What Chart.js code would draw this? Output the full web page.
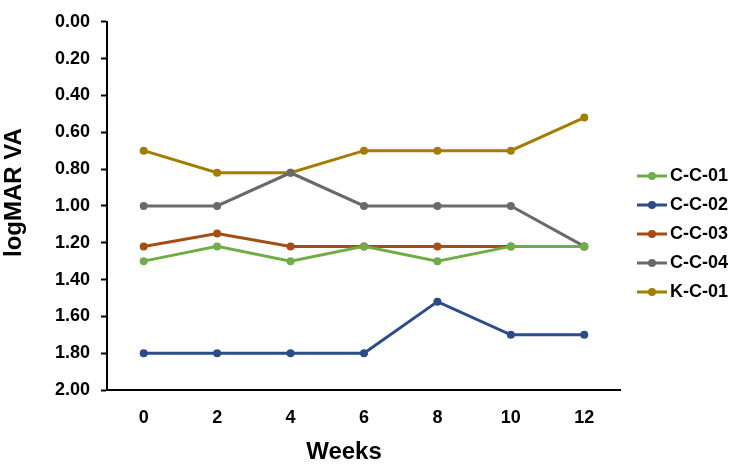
<!DOCTYPE html>
<html>
<head>
<meta charset="utf-8">
<script src="https://cdn.jsdelivr.net/npm/chart.js@4"></script>
<style>
  html, body { margin: 0; padding: 0; background: #fff; }
  #wrap { width: 733px; height: 464px; }
</style>
</head>
<body>
<div id="wrap"><canvas id="chart"></canvas></div>
<script>
// data
const weeks = ['0', '2', '4', '6', '8', '10', '12'];
const seriesNames = ['C-C-01', 'C-C-02', 'C-C-03', 'C-C-04', 'K-C-01'];
const cc01 = [1.30, 1.22, 1.30, 1.22, 1.30, 1.22, 1.22];
const cc02 = [1.80, 1.80, 1.80, 1.80, 1.52, 1.70, 1.70];
const cc03 = [1.22, 1.15, 1.22, 1.22, 1.22, 1.22, 1.22];
const cc04 = [1.00, 1.00, 0.82, 1.00, 1.00, 1.00, 1.22];
const kc01 = [0.70, 0.82, 0.82, 0.70, 0.70, 0.70, 0.52];
const yMin = 0, yMax = 2, yStep = 0.2;

const colors = ['#70AD47', '#2B4B8A', '#A84D12', '#6A6A6A', '#A47D00'];
const FONT = 'Liberation Sans, Arial, sans-serif';

// legend marker: short line with a dot in the middle
function legendMarker(color) {
  const c = document.createElement('canvas');
  c.width = 30; c.height = 10;
  const g = c.getContext('2d');
  g.strokeStyle = color;
  g.lineWidth = 3;
  g.beginPath(); g.moveTo(0, 5); g.lineTo(30, 5); g.stroke();
  g.fillStyle = color;
  g.beginPath(); g.arc(15, 5, 4, 0, Math.PI * 2); g.fill();
  return c;
}

const allValues = [cc01, cc02, cc03, cc04, kc01];
const datasets = allValues.map((vals, i) => ({
  label: seriesNames[i],
  data: vals,
  borderColor: colors[i],
  backgroundColor: colors[i],
  borderWidth: 3,
  pointRadius: 4,
  pointHoverRadius: 4,
  pointBorderWidth: 0,
  fill: false,
  tension: 0,
}));

// nudge the legend up and right a little, as in the original
const legendShift = {
  id: 'legendShift',
  afterLayout(chart) {
    const lg = chart.legend;
    if (lg) {
      lg.top -= 4; lg.bottom -= 4;
      lg.left += 11; lg.right += 11;
    }
  },
};

new Chart(document.getElementById('chart').getContext('2d'), {
  type: 'line',
  data: { labels: weeks, datasets: datasets },
  plugins: [legendShift],
  options: {
    responsive: true,
    maintainAspectRatio: false,
    animation: false,
    layout: { padding: { top: 12, right: 6, bottom: 0, left: 0 } },
    plugins: {
      tooltip: { enabled: false },
      legend: {
        position: 'right',
        labels: {
          usePointStyle: true,
          pointStyleWidth: 18,
          padding: 11,
          color: '#000',
          font: { family: FONT, size: 18, weight: 'bold' },
          generateLabels: (chart) => chart.data.datasets.map((ds, i) => ({
            text: ds.label,
            pointStyle: legendMarker(colors[i]),
            fillStyle: colors[i],
            strokeStyle: colors[i],
            lineWidth: 0,
            hidden: false,
            datasetIndex: i,
          })),
        },
      },
    },
    scales: {
      x: {
        offset: true,
        grid: { display: false },
        border: { display: true, color: '#000', width: 2 },
        ticks: { color: '#000', padding: 9, font: { family: FONT, size: 18, weight: 'bold' } },
        title: {
          display: true, text: 'Weeks      ', color: '#000',
          font: { family: FONT, size: 24, weight: 'bold', lineHeight: 1 },
          padding: { top: 0, bottom: 0 },
        },
        afterFit: (s) => { s.height = 74; },
      },
      y: {
        reverse: true,
        min: yMin,
        max: yMax,
        grid: { drawOnChartArea: false, drawTicks: true, tickLength: 6, color: '#000', tickWidth: 2 },
        border: { display: true, color: '#000', width: 2 },
        ticks: {
          stepSize: yStep,
          color: '#000',
          padding: 11,
          font: { family: FONT, size: 18, weight: 'bold' },
          callback: (v) => v.toFixed(2),
        },
        title: {
          display: true, text: '    logMAR VA', color: '#000',
          font: { family: FONT, size: 24, weight: 'bold', lineHeight: 1 },
          padding: { top: 2, bottom: 0 },
        },
        afterFit: (s) => { s.width = 107; },
      },
    },
  },
});
</script>
</body>
</html>
